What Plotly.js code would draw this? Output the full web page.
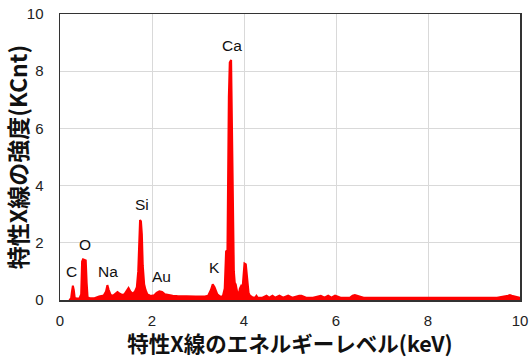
<!DOCTYPE html>
<html>
<head>
<meta charset="utf-8">
<script src="https://cdn.plot.ly/plotly-3.0.1.min.js"></script>
<style>html,body{margin:0;padding:0;background:#fff;}#chart{width:529px;height:358px;}</style>
</head>
<body>
<div id="chart"></div>
<script>
// Energy (keV) and intensity (KCnt)
const energy = [0.20,0.24,0.26,0.28,0.30,0.32,0.36,0.42,0.46,0.48,0.50,0.53,0.56,0.58,0.60,0.65,0.75,0.85,0.90,0.95,1.00,1.03,1.06,1.10,1.15,1.20,1.25,1.30,1.35,1.40,1.45,1.49,1.53,1.58,1.63,1.67,1.70,1.72,1.74,1.76,1.78,1.80,1.83,1.86,1.90,1.95,2.00,2.05,2.10,2.16,2.22,2.28,2.35,2.45,2.55,2.65,2.75,2.85,2.95,3.05,3.15,3.22,3.28,3.32,3.36,3.42,3.48,3.54,3.58,3.61,3.64,3.67,3.69,3.72,3.74,3.76,3.78,3.80,3.82,3.85,3.88,3.91,3.94,3.97,3.99,4.01,4.04,4.07,4.10,4.13,4.18,4.24,4.27,4.30,4.40,4.49,4.55,4.62,4.68,4.77,4.85,4.96,5.05,5.20,5.25,5.35,5.50,5.67,5.75,5.83,5.90,5.98,6.10,6.30,6.36,6.41,6.46,6.60,7.00,7.50,8.00,8.50,9.00,9.50,9.74,9.78,9.82,10.00];
const intensity = [0.00,0.05,0.30,0.50,0.35,0.08,0.05,0.05,0.20,1.35,1.42,1.40,1.38,0.60,0.10,0.06,0.06,0.12,0.15,0.16,0.30,0.52,0.35,0.18,0.15,0.20,0.28,0.22,0.18,0.20,0.32,0.42,0.30,0.22,0.30,0.45,1.00,2.50,2.80,2.75,2.30,1.20,0.55,0.35,0.20,0.16,0.15,0.17,0.25,0.30,0.28,0.20,0.17,0.15,0.14,0.13,0.13,0.12,0.12,0.12,0.12,0.15,0.35,0.55,0.45,0.20,0.12,0.13,0.40,1.70,1.75,7.10,8.30,8.39,6.05,2.00,1.00,0.60,0.55,0.30,0.15,0.40,0.50,0.45,0.80,1.28,1.25,0.60,0.25,0.15,0.10,0.08,0.15,0.08,0.08,0.15,0.08,0.15,0.08,0.15,0.08,0.15,0.08,0.15,0.15,0.08,0.08,0.15,0.08,0.15,0.08,0.15,0.08,0.08,0.15,0.17,0.15,0.08,0.08,0.08,0.08,0.08,0.08,0.08,0.15,0.17,0.15,0.08];

// Element labels and their anchor points (keV, KCnt)
const elements = ['C','O','Na','Si','Au','K','Ca'];
const elemX = [0.24,0.54,1.04,1.78,2.20,3.35,3.74];
const elemY = [0.98,1.95,0.98,3.35,0.83,1.12,8.90];

const xTicks = [0,2,4,6,8,10];
const yTicks = [0,2,4,6,8,10];

const trace = {
  x: energy, y: intensity, type: 'scatter', mode: 'lines',
  fill: 'tozeroy', fillcolor: '#ff0000',
  line: {color: '#ff0000', width: 2, shape: 'linear'},
  hoverinfo: 'skip'
};

const annotations = elements.map((t, i) => ({
  x: elemX[i], y: elemY[i], xref: 'x', yref: 'y', text: t, showarrow: false,
  font: {family: 'Liberation Sans, Arial, sans-serif', size: 15.5, color: '#111'}
}));

const jp = '"Noto Sans CJK JP", "Noto Sans", sans-serif';
const layout = {
  width: 529, height: 358,
  margin: {l: 60, r: 9, t: 14, b: 58},
  paper_bgcolor: '#fff', plot_bgcolor: '#fff',
  showlegend: false,
  xaxis: {
    range: [0, 10], tickvals: xTicks, ticktext: xTicks.map(String),
    showgrid: true, gridcolor: '#d9d9d9', gridwidth: 1, zeroline: false,
    showline: true, linecolor: '#333', linewidth: 1.5, mirror: true,
    ticks: '', ticklabelstandoff: 6,
    tickfont: {family: 'Liberation Sans, Arial, sans-serif', size: 15, color: '#222'},
    title: {text: '<b>特性X線のエネルギーレベル(keV)</b>', standoff: 6,
      font: {family: jp, size: 21.5, color: '#111'}}
  },
  yaxis: {
    range: [0, 10], tickvals: yTicks, ticktext: yTicks.map(String),
    showgrid: true, gridcolor: '#d9d9d9', gridwidth: 1, zeroline: false,
    showline: true, linecolor: '#333', linewidth: 1.5, mirror: true,
    ticks: '', ticklabelstandoff: 12,
    tickfont: {family: 'Liberation Sans, Arial, sans-serif', size: 15, color: '#222'},
    title: {text: '<b>特性X線の強度(KCnt)</b>', standoff: 4,
      font: {family: jp, size: 23, color: '#111'}}
  },
  annotations: annotations
};

Plotly.newPlot('chart', [trace], layout, {displayModeBar: false, staticPlot: true});
</script>
</body>
</html>
